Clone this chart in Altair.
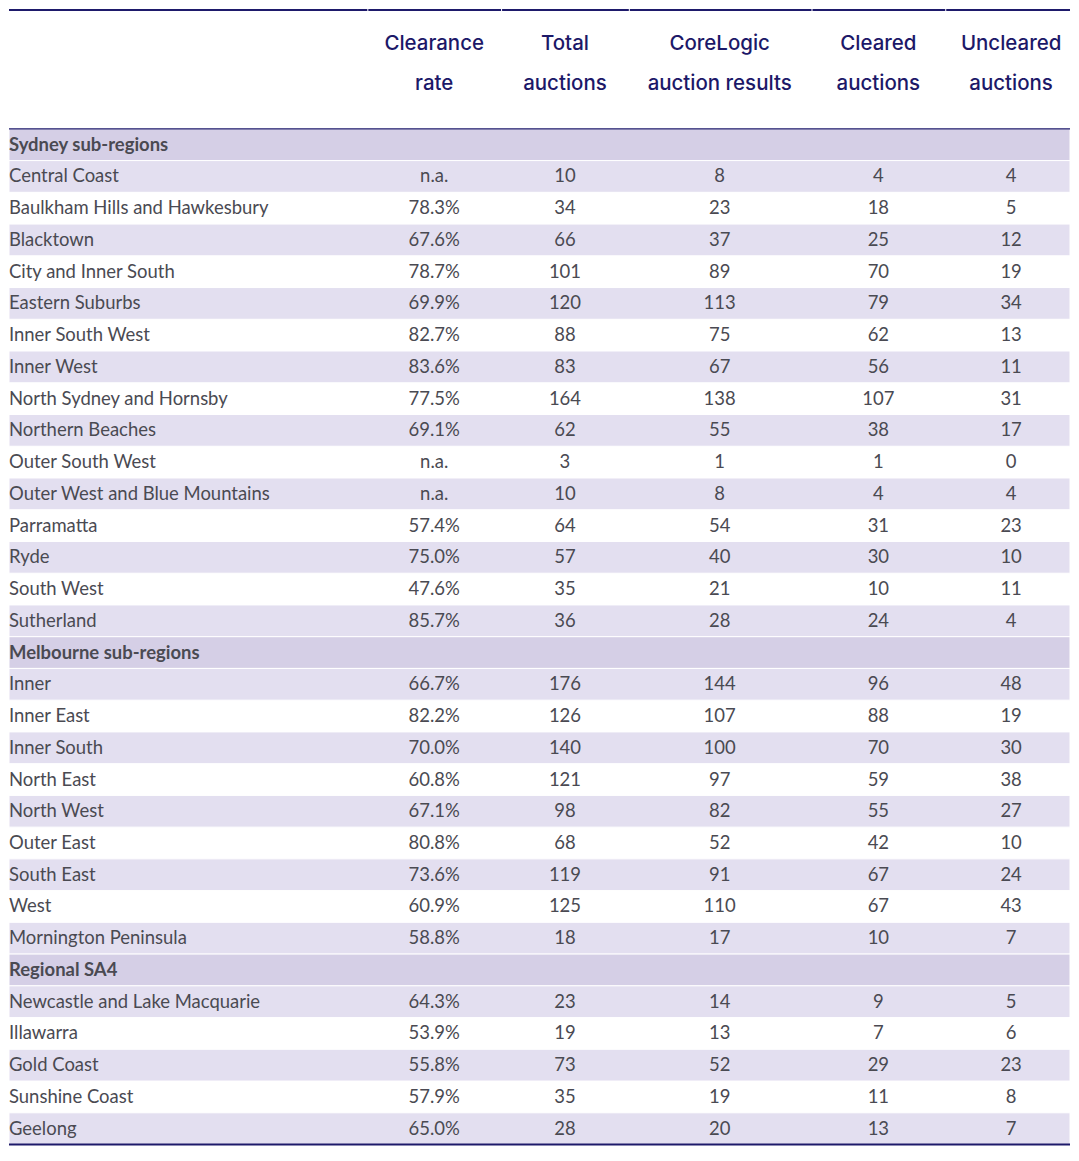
import altair as alt
import pandas as pd

# ---------------- data ----------------
header_line1 = ["Clearance", "Total", "CoreLogic", "Cleared", "Uncleared"]
header_line2 = ["rate", "auctions", "auction results", "auctions", "auctions"]

sections = ["Sydney sub-regions", "Melbourne sub-regions", "Regional SA4"]

sydney_regions = ["Central Coast", "Baulkham Hills and Hawkesbury", "Blacktown",
                  "City and Inner South", "Eastern Suburbs", "Inner South West",
                  "Inner West", "North Sydney and Hornsby", "Northern Beaches",
                  "Outer South West", "Outer West and Blue Mountains", "Parramatta",
                  "Ryde", "South West", "Sutherland"]
sydney_clearance = [None, 78.3, 67.6, 78.7, 69.9, 82.7, 83.6, 77.5, 69.1, None, None,
                    57.4, 75.0, 47.6, 85.7]
sydney_total = [10, 34, 66, 101, 120, 88, 83, 164, 62, 3, 10, 64, 57, 35, 36]
sydney_results = [8, 23, 37, 89, 113, 75, 67, 138, 55, 1, 8, 54, 40, 21, 28]
sydney_cleared = [4, 18, 25, 70, 79, 62, 56, 107, 38, 1, 4, 31, 30, 10, 24]
sydney_uncleared = [4, 5, 12, 19, 34, 13, 11, 31, 17, 0, 4, 23, 10, 11, 4]

melbourne_regions = ["Inner", "Inner East", "Inner South", "North East", "North West",
                     "Outer East", "South East", "West", "Mornington Peninsula"]
melbourne_clearance = [66.7, 82.2, 70.0, 60.8, 67.1, 80.8, 73.6, 60.9, 58.8]
melbourne_total = [176, 126, 140, 121, 98, 68, 119, 125, 18]
melbourne_results = [144, 107, 100, 97, 82, 52, 91, 110, 17]
melbourne_cleared = [96, 88, 70, 59, 55, 42, 67, 67, 10]
melbourne_uncleared = [48, 19, 30, 38, 27, 10, 24, 43, 7]

regional_regions = ["Newcastle and Lake Macquarie", "Illawarra", "Gold Coast",
                    "Sunshine Coast", "Geelong"]
regional_clearance = [64.3, 53.9, 55.8, 57.9, 65.0]
regional_total = [23, 19, 73, 35, 28]
regional_results = [14, 13, 52, 19, 20]
regional_cleared = [9, 7, 29, 11, 13]
regional_uncleared = [5, 6, 23, 8, 7]

# ---------------- styles / layout ----------------
W, H = 1063, 1140
ROW_TOP, ROW_H = 120, 31.8
LABEL_X = 0
COL_X = [426, 557, 712, 871, 1004]
COL_BOUNDS = [359, 493, 621, 804, 938]
NAVY = "#1e1a6b"
HEAD_TXT = "#1c1868"
BODY_TXT = "#4a4a52"
SECTION_BG = "#d5cfe6"
LIGHT_BG = "#e3dff0"
BODY_FONT = "Lato, sans-serif"
HEAD_FONT = "Inter, Lato, sans-serif"

# ---------------- build table ----------------
groups = [
    (sections[0], sydney_regions, sydney_clearance, sydney_total, sydney_results,
     sydney_cleared, sydney_uncleared),
    (sections[1], melbourne_regions, melbourne_clearance, melbourne_total,
     melbourne_results, melbourne_cleared, melbourne_uncleared),
    (sections[2], regional_regions, regional_clearance, regional_total,
     regional_results, regional_cleared, regional_uncleared),
]

rows = []
r = 0
for name, regs, clr, tot, res, clrd, uncl in groups:
    rows.append(dict(row=r, kind="section", label=name, c0="", c1="", c2="", c3="", c4=""))
    r += 1
    for i, reg in enumerate(regs):
        rows.append(dict(
            row=r, kind="light" if i % 2 == 0 else "white", label=reg,
            c0="n.a." if clr[i] is None else f"{clr[i]:.1f}%",
            c1=str(tot[i]), c2=str(res[i]), c3=str(clrd[i]), c4=str(uncl[i])))
        r += 1
n_rows = r
df = pd.DataFrame(rows)
df["row_end"] = df["row"] + 1
df["yc"] = df["row"] + 0.5

head_df = pd.DataFrame({"l1": header_line1, "l2": header_line2})

yscale = alt.Scale(domain=[0, n_rows], range=[ROW_TOP, ROW_TOP + n_rows * ROW_H])

base = alt.Chart(df)

bg = base.transform_filter("datum.kind != 'white'").mark_rect(
    stroke="white", strokeWidth=1
).encode(
    x=alt.value(0), x2=alt.value(W),
    y=alt.Y("row:Q", scale=yscale, axis=None), y2="row_end:Q",
    color=alt.Color("kind:N", legend=None,
                    scale=alt.Scale(domain=["section", "light"],
                                    range=[SECTION_BG, LIGHT_BG])),
)

labels = base.transform_filter("datum.kind != 'section'").mark_text(
    align="left", baseline="middle", font=BODY_FONT, fontSize=18.5,
    color=BODY_TXT).encode(
    x=alt.value(LABEL_X),
    y=alt.Y("yc:Q", scale=yscale, axis=None),
    text="label:N",
)
sec_labels = base.transform_filter("datum.kind == 'section'").mark_text(
    align="left", baseline="middle", font=BODY_FONT, fontSize=18.5, fontWeight="bold",
    color=BODY_TXT).encode(
    x=alt.value(LABEL_X),
    y=alt.Y("yc:Q", scale=yscale, axis=None),
    text="label:N",
)

cells = []
for j, cx in enumerate(COL_X):
    cells.append(base.mark_text(align="center", baseline="middle", font=BODY_FONT,
                                fontSize=18.5, color=BODY_TXT).encode(
        x=alt.value(cx),
        y=alt.Y("yc:Q", scale=yscale, axis=None),
        text=f"c{j}:N",
    ))

heads = []
for j, cx in enumerate(COL_X):
    h = alt.Chart(head_df.iloc[[j]])
    heads.append(h.mark_text(align="center", baseline="middle", font=HEAD_FONT,
                             fontSize=20.5, fontWeight=500, color=HEAD_TXT).encode(
        x=alt.value(cx), y=alt.value(35), text="l1:N"))
    heads.append(h.mark_text(align="center", baseline="middle", font=HEAD_FONT,
                             fontSize=20.5, fontWeight=500, color=HEAD_TXT).encode(
        x=alt.value(cx), y=alt.value(75), text="l2:N"))

top_rule = alt.Chart(head_df.iloc[[0]]).mark_rule(color=NAVY, strokeWidth=2).encode(
    x=alt.value(0), x2=alt.value(W), y=alt.value(1))
gaps = alt.Chart(pd.DataFrame({"b": COL_BOUNDS})).mark_rect(color="white").encode(
    x=alt.X("b:Q", scale=None), x2=alt.X2("b2:Q"), y=alt.value(0), y2=alt.value(3)
).transform_calculate(b2="datum.b + 1")
mid_rule = alt.Chart(head_df.iloc[[0]]).mark_rule(color=NAVY, strokeWidth=1.2).encode(
    x=alt.value(0), x2=alt.value(W), y=alt.Y(datum=0, scale=yscale, axis=None))
bot_rule = alt.Chart(head_df.iloc[[0]]).mark_rule(color=NAVY, strokeWidth=2).encode(
    x=alt.value(0), x2=alt.value(W), y=alt.Y(datum=n_rows, scale=yscale, axis=None))

chart = alt.layer(bg, labels, sec_labels, *cells, *heads, top_rule, gaps, mid_rule,
                  bot_rule).properties(
    width=W, height=H, padding=0
).configure_view(strokeWidth=0)

chart.save("out.html", embed_options={"renderer": "svg", "actions": False})
